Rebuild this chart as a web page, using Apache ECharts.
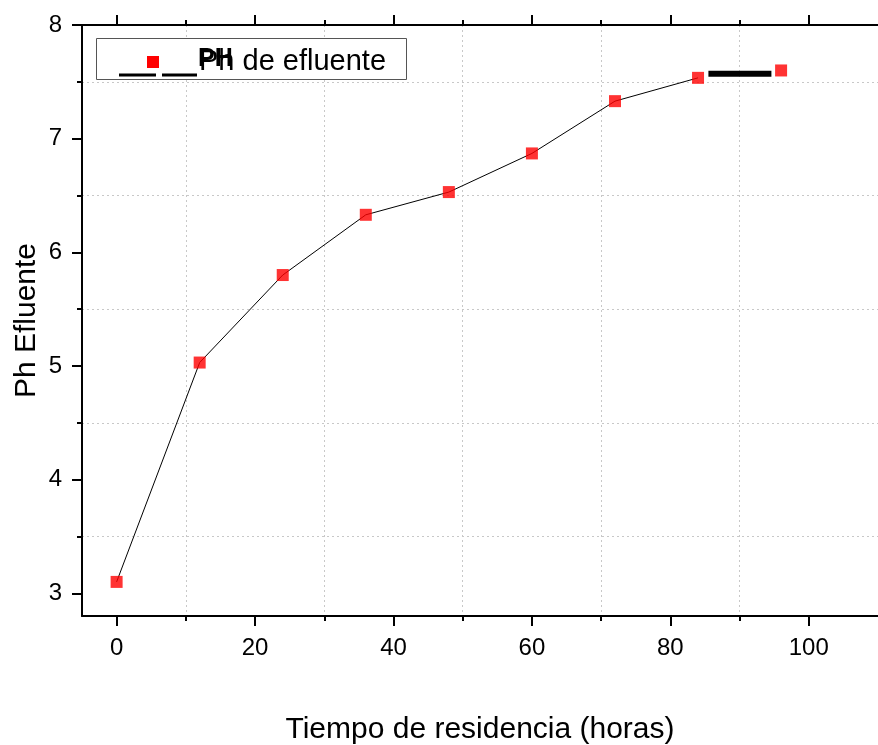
<!DOCTYPE html>
<html>
<head>
<meta charset="utf-8">
<title>Ph Efluente</title>
<script src="https://cdn.jsdelivr.net/npm/echarts@6/dist/echarts.min.js"></script>
<style>
  html, body { margin: 0; padding: 0; background: #fff; }
  #chart { width: 878px; height: 745px; }
</style>
</head>
<body>
<div id="chart"></div>
<script>
// datos
const horas = [0, 12, 24, 36, 48, 60, 72, 84, 96];
const ph = [3.1, 5.03, 5.8, 6.33, 6.53, 6.87, 7.33, 7.535, 7.6];
// tramo grueso negro entre 84 y 96 h
const tramoX = [85.5, 94.6];
const tramoY = [7.57, 7.57];

const xMajor = [0, 20, 40, 60, 80, 100];
const xMinor = [10, 30, 50, 70, 90];
const yMajor = [3, 4, 5, 6, 7, 8];
const yMinor = [3.5, 4.5, 5.5, 6.5, 7.5];

const FONT = 'Liberation Sans, Arial, sans-serif';
const chart = echarts.init(document.getElementById('chart'));

const lineaEje = { show: true, onZero: false, lineStyle: { color: '#000', width: 2 } };
const sinLinea = { show: false, onZero: false };
const rejilla = { show: true, lineStyle: { color: '#c8c8c8', width: 1, type: [2, 3] } };

function ejeX(pos, ticks, len, opts) {
    return Object.assign({
        type: 'value', position: pos, min: -5, max: 110,
        axisLine: sinLinea,
        axisTick: { show: true, customValues: ticks, length: len, lineStyle: { color: '#000', width: 2 } },
        axisLabel: { show: false },
        splitLine: { show: false }
    }, opts || {});
}
function ejeY(ticks, len, opts) {
    return Object.assign({
        type: 'value', position: 'left', min: 2.8, max: 8,
        axisLine: sinLinea,
        axisTick: { show: true, customValues: ticks, length: len, lineStyle: { color: '#000', width: 2 } },
        axisLabel: { show: false },
        splitLine: { show: false }
    }, opts || {});
}

const option = {
    animation: false,
    grid: { left: 82, top: 25, right: 0, bottom: 129, containLabel: false, outerBoundsMode: 'none' },
    xAxis: [
        ejeX('bottom', xMajor, 10, {
            axisLine: lineaEje,
            axisLabel: { show: true, customValues: xMajor, fontSize: 24, color: '#000', fontFamily: FONT, margin: 20 },
            name: 'Tiempo de residencia (horas)',
            nameLocation: 'middle', nameGap: 99, nameMoveOverlap: false,
            nameTextStyle: { fontSize: 30, color: '#000', fontFamily: FONT }
        }),
        ejeX('bottom', xMinor, 5, { splitLine: rejilla }),
        ejeX('top', xMajor, 10, { axisLine: lineaEje }),
        ejeX('top', xMinor, 5)
    ],
    yAxis: [
        ejeY(yMajor, 10, {
            axisLine: lineaEje,
            axisLabel: { show: true, customValues: yMajor, fontSize: 24, color: '#000', fontFamily: FONT, margin: 20 },
            name: 'Ph Efluente',
            nameLocation: 'middle', nameGap: 40, nameMoveOverlap: false,
            nameTextStyle: { fontSize: 30, color: '#000', fontFamily: FONT }
        }),
        ejeY(yMinor, 5, { splitLine: rejilla })
    ],
    series: [
        {
            type: 'line',
            data: horas.slice(0, 8).map((h, i) => [h, ph[i]]),
            showSymbol: false,
            lineStyle: { color: '#000', width: 1 },
            z: 2
        },
        {
            type: 'line',
            data: tramoX.map((h, i) => [h, tramoY[i]]),
            showSymbol: false,
            lineStyle: { color: '#000', width: 6 },
            z: 2
        },
        {
            name: 'Ph de efluente',
            type: 'scatter',
            data: horas.map((h, i) => [h, ph[i]]),
            symbol: 'rect',
            symbolSize: 12,
            itemStyle: { color: '#ff0000' },
            z: 3
        }
    ],
    graphic: [
        { type: 'rect', shape: { x: 96.5, y: 38.5, width: 310, height: 41 },
          style: { fill: '#fff', stroke: '#555', lineWidth: 1 }, z: 10 },
        { type: 'line', shape: { x1: 119, y1: 75, x2: 156, y2: 75 },
          style: { stroke: '#000', lineWidth: 3 }, z: 11 },
        { type: 'line', shape: { x1: 162, y1: 75, x2: 197, y2: 75 },
          style: { stroke: '#000', lineWidth: 3 }, z: 11 },
        { type: 'rect', shape: { x: 147, y: 56, width: 12, height: 12 },
          style: { fill: '#ff0000' }, z: 11 },
        { type: 'text', x: 198, y: 59,
          style: { text: 'PH', font: 'bold 25px ' + FONT, fill: '#000', verticalAlign: 'middle' }, z: 11 },
        { type: 'text', x: 199, y: 62,
          style: { text: 'Ph de efluente', font: '29px ' + FONT, fill: '#000', verticalAlign: 'middle' }, z: 12 }
    ]
};
chart.setOption(option);
</script>
</body>
</html>
